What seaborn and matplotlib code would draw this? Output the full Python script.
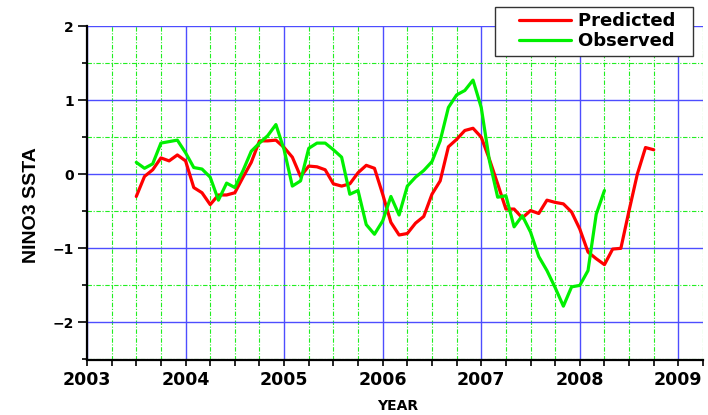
import numpy as np
import pandas as pd
import matplotlib
matplotlib.use("Agg")
import matplotlib.pyplot as plt
from matplotlib.ticker import MultipleLocator
from matplotlib.legend_handler import HandlerLine2D
import seaborn as sns

# monthly values starting July 2003
start_year = 2003.5
predicted = [-0.30, -0.03, 0.06, 0.22, 0.18, 0.26, 0.18, -0.18, -0.25, -0.41,
             -0.28, -0.28, -0.25, -0.04, 0.16, 0.45, 0.45, 0.46, 0.36, 0.23,
             -0.03, 0.11, 0.10, 0.06, -0.13, -0.16, -0.13, 0.02, 0.12, 0.08,
             -0.27, -0.65, -0.82, -0.80, -0.66, -0.57, -0.27, -0.09, 0.37, 0.47,
             0.59, 0.62, 0.50, 0.20, -0.13, -0.47, -0.47, -0.59, -0.49, -0.53,
             -0.35, -0.38, -0.40, -0.51, -0.74, -1.05, -1.14, -1.22, -1.01, -1.00,
             -0.49, 0.00, 0.36, 0.33]
observed = [0.16, 0.08, 0.14, 0.42, 0.44, 0.46, 0.29, 0.09, 0.07, -0.04,
            -0.35, -0.12, -0.18, 0.05, 0.31, 0.42, 0.52, 0.67, 0.33, -0.16,
            -0.09, 0.35, 0.42, 0.42, 0.33, 0.23, -0.27, -0.22, -0.68, -0.81,
            -0.63, -0.30, -0.55, -0.16, -0.04, 0.05, 0.17, 0.45, 0.90, 1.07,
            1.13, 1.27, 0.90, 0.18, -0.31, -0.29, -0.71, -0.56, -0.78, -1.11,
            -1.30, -1.53, -1.78, -1.52, -1.50, -1.30, -0.54, -0.22]
y_ticks = [-2, -1, 0, 1, 2]
y_ticklabels = ["\u22122", "\u22121", "0", "1", "2"]

pred_df = pd.DataFrame({"year": start_year + np.arange(len(predicted)) / 12,
                        "ssta": predicted})
obs_df = pd.DataFrame({"year": start_year + np.arange(len(observed)) / 12,
                       "ssta": observed})


# legend line drawn in the right part of the handle box (extra left padding)
class PaddedLine(HandlerLine2D):
    def create_artists(self, legend, orig_handle, xdescent, ydescent,
                       width, height, fontsize, trans):
        pad = 0.26 * width
        return super().create_artists(legend, orig_handle, xdescent - pad, ydescent,
                                      width - pad, height, fontsize, trans)


sns.set_style("white")
plt.rcParams["text.color"] = "black"

fig = plt.figure(figsize=(7.08, 4.15), dpi=100)
ax = fig.add_axes([87 / 708, 1 - 359.5 / 415, 616 / 708, 333.5 / 415])

sns.lineplot(data=pred_df, x="year", y="ssta", color="#ff0000", lw=2.3,
             label="Predicted  ", ax=ax)
sns.lineplot(data=obs_df, x="year", y="ssta", color="#00f000", lw=2.3,
             label="Observed  ", ax=ax)

ax.set_xlim(2003, 2009.25)
ax.set_ylim(-2.5, 2)
ax.xaxis.set_major_locator(MultipleLocator(1))
ax.xaxis.set_minor_locator(MultipleLocator(0.25))
ax.set_yticks(y_ticks)
ax.yaxis.set_minor_locator(MultipleLocator(0.5))

ax.set_axisbelow(True)
ax.grid(which="major", color="#4d4dff", lw=1.0)
ax.grid(which="minor", color="#22ee22", lw=0.8, linestyle=(0, (4, 1.5, 1, 1.5)))
for t in ax.yaxis.get_major_ticks():
    if t.get_loc() == 2:
        t.gridline.set_visible(False)

for s in ["top", "right"]:
    ax.spines[s].set_visible(False)
for s in ["left", "bottom"]:
    ax.spines[s].set_color("black")
    ax.spines[s].set_linewidth(1.6)

ax.tick_params(axis="x", which="both", direction="out", length=4.2, width=1.2,
               color="black", labelcolor="black", pad=4, bottom=True)
ax.tick_params(axis="y", which="major", direction="out", length=6.5, width=1.2,
               color="black", labelcolor="black", pad=3, left=True)
ax.tick_params(axis="y", which="minor", direction="out", length=3.6, width=1.2,
               color="black", left=True)
for lab in ax.get_xticklabels():
    lab.set_fontfamily("DejaVu Sans")
    lab.set_fontweight("bold")
    lab.set_fontsize(12.5)
ax.set_yticklabels(y_ticklabels, fontfamily="DejaVu Sans",
                   fontweight="bold", fontsize=10)

ax.set_xlabel("")
ax.set_ylabel("")
fig.text(32 / 708, 1 - 205 / 415, "NINO3 SSTA", rotation=90, ha="center",
         va="center", fontsize=14, fontweight="bold", family="Liberation Sans",
         color="black")
fig.text(397.7 / 708, 1 - 406 / 415, "YEAR", ha="center", va="center",
         fontsize=10, fontweight="bold", family="DejaVu Sans", color="black")

leg = ax.legend(loc="upper right", bbox_to_anchor=(0.984, 1.057), borderaxespad=0,
                fancybox=False, framealpha=1, edgecolor="#333333",
                prop={"family": "DejaVu Sans", "weight": "bold", "size": 13},
                handlelength=3.9, handletextpad=0.4, labelspacing=0.1,
                borderpad=0.3, handler_map={plt.Line2D: PaddedLine()})
leg.get_frame().set_linewidth(1.0)

fig.savefig("out.png", dpi=100)
